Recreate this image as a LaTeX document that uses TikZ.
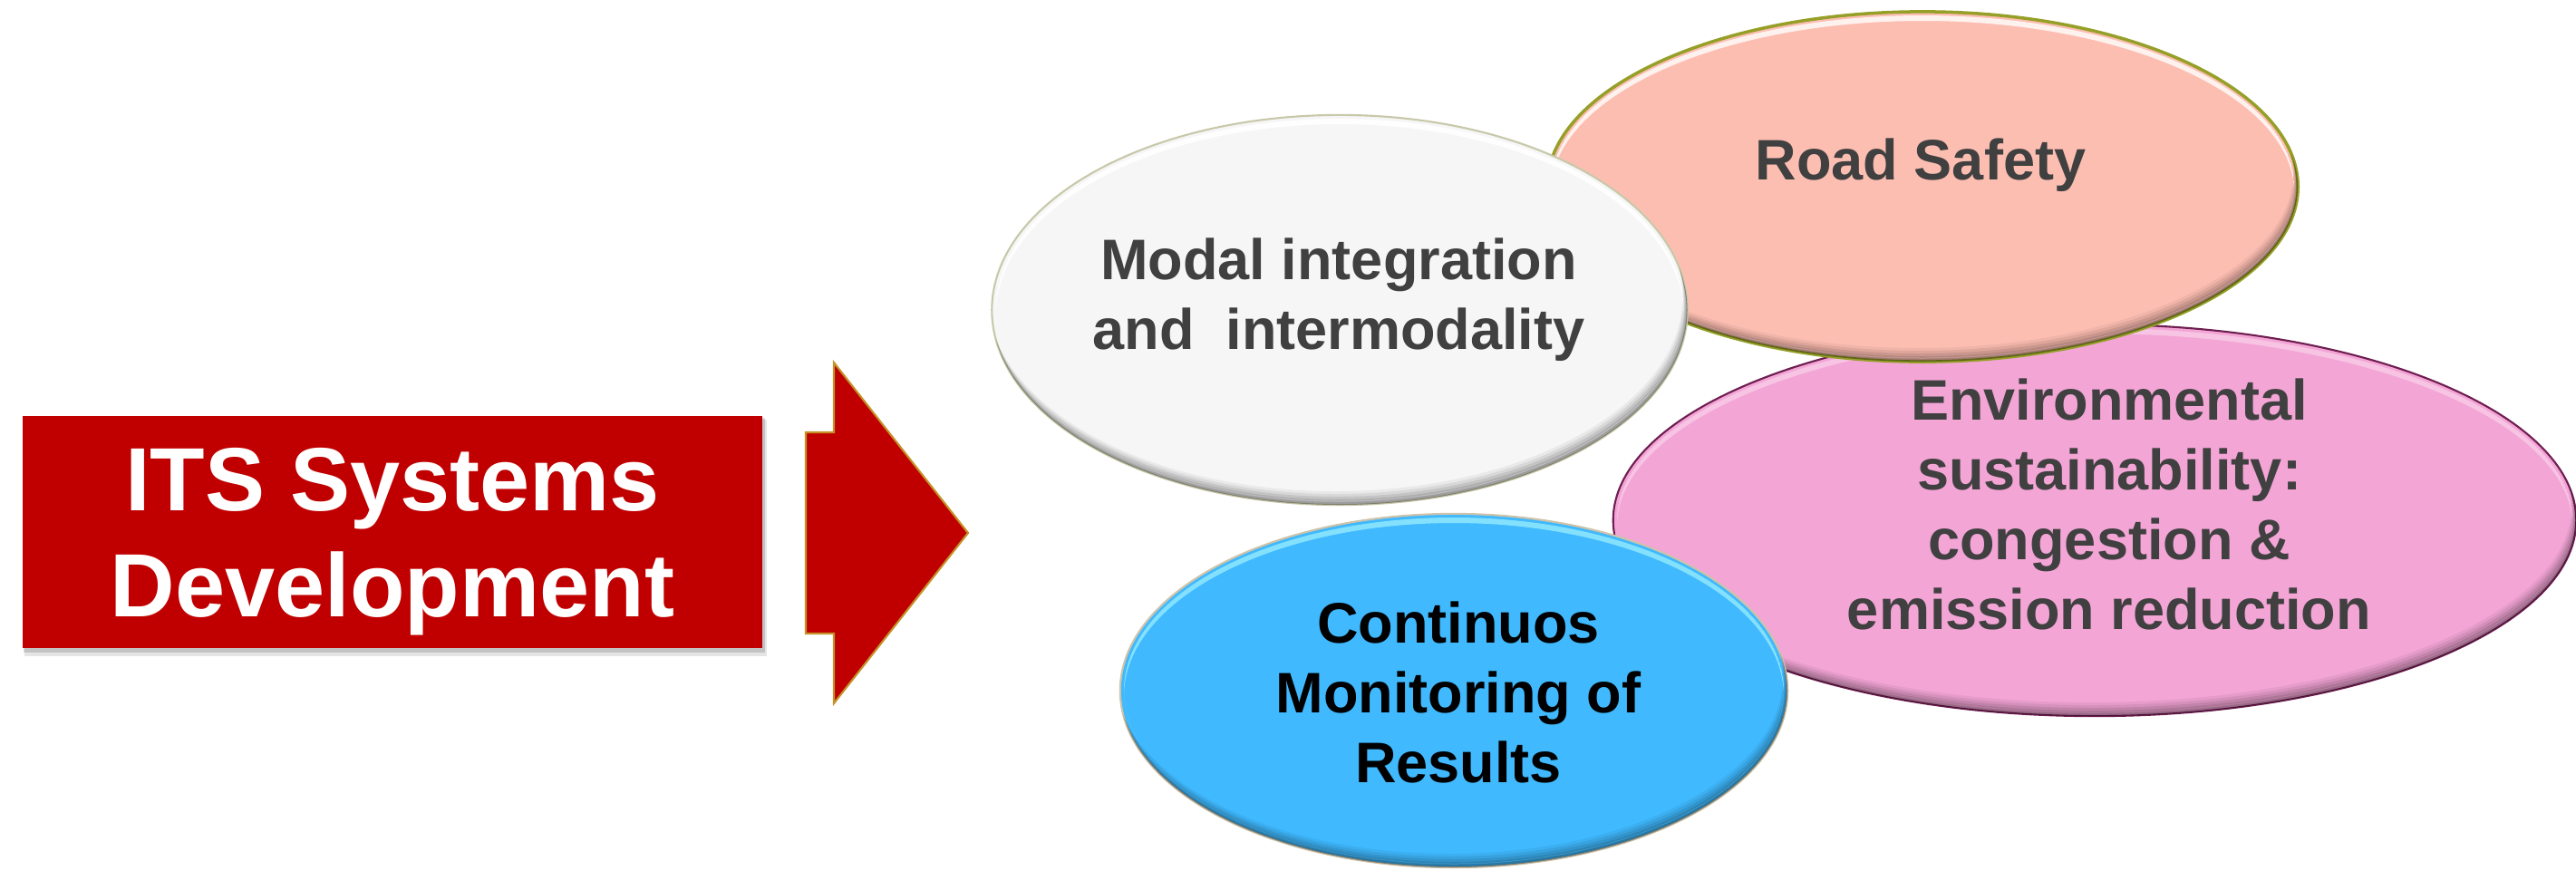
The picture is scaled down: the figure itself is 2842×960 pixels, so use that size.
\documentclass[tikz,border=0pt]{standalone}
\usepackage{fontspec}
\setmainfont{Liberation Sans}
\usetikzlibrary{shapes.geometric}
\definecolor{itsred}{RGB}{192,0,0}
\definecolor{arrowgold}{RGB}{196,146,40}
\definecolor{txtgray}{RGB}{64,64,64}
\definecolor{modalfill}{RGB}{246,246,246}
\definecolor{modaledge}{RGB}{200,200,170}
\definecolor{roadfill}{RGB}{253,190,178}
\definecolor{roadedge}{RGB}{150,160,40}
\definecolor{envfill}{RGB}{243,165,214}
\definecolor{envedge}{RGB}{110,30,80}
\definecolor{monfill}{RGB}{64,185,254}
\definecolor{monedge}{RGB}{205,195,170}
\definecolor{monhi}{RGB}{140,230,255}
\newcommand\lblfont{\fontsize{17.93pt}{21.9pt}\selectfont\bfseries}
\newcommand\itsfont{\fontsize{28.17pt}{33.3pt}\selectfont\bfseries}
% bevel: #1 node, #2 rx, #3 ry, #4 highlight colour, #5 highlight opacity, #6 shadow colour
\newcommand\bevelit[6]{%
  \begin{scope}
    \clip (#1.center) ellipse [x radius=#2, y radius=#3];
    \foreach \s/\o in {3/0.10,6/0.10,9/0.09,12/0.07,15/0.05}{
      \fill[#6, opacity=\o, even odd rule]
        (#1.center) ellipse [x radius=#2+3, y radius=#3+3]
        ([shift={(-\s/3,-\s)}]#1.center) ellipse [x radius=#2, y radius=#3];
    }
    \clip (#1.center) ellipse [x radius=#2-4, y radius=#3-4];
    \fill[#4, opacity=#5, even odd rule]
      (#1.center) ellipse [x radius=#2-4, y radius=#3-4]
      ([shift={(0,6)}]#1.center) ellipse [x radius=#2-4, y radius=#3-4];
  \end{scope}}
\tikzset{
  bubble/.style={ellipse, inner sep=0pt, outer sep=0pt, line width=0.6pt},
  lbl/.style={align=center, inner sep=0pt, font=\lblfont, text=txtgray},
  itsbox/.style={fill=itsred, inner sep=0pt, outer sep=0pt},
  bigarrow/.style={fill=itsred, draw=arrowgold, line width=0.6pt, line join=miter}
}
\begin{document}
\begin{tikzpicture}[x=0.01cm,y=-0.01cm]
\useasboundingbox (0,0) rectangle (2842,960);

% left box with soft shadow
\fill[black, opacity=0.10] (27,463) rectangle (846,724);
\fill[black, opacity=0.15] (26,461) rectangle (844,720);
\node[itsbox, minimum width=8.16cm, minimum height=2.56cm] (its) at (433,587) {};
\node[align=center, inner sep=0pt, font=\itsfont, text=white] (itstxt) at (433,598) {ITS Systems\\Development};

% block arrow
\draw[bigarrow] (889,477) -- (920,477) -- (920,400) -- (1068,588) -- (920,776) -- (920,699) -- (889,699) -- cycle;

% environmental sustainability (back)
\node[bubble, fill=envfill, draw=envedge, minimum width=10.62cm, minimum height=4.32cm] (env) at (2311,574) {};
\bevelit{env}{531}{216}{white}{0.35}{black}
\node[lbl] (envtxt) at (2327,556) {Environmental\\sustainability:\\congestion \&\\emission reduction};

% road safety
\node[bubble, fill=roadfill, draw=roadedge, line width=1pt, minimum width=8.28cm, minimum height=3.86cm] (road) at (2121,206) {};
\bevelit{road}{414}{193}{white}{0.8}{black}
\node[lbl] (roadtxt) at (2119,182) {Road Safety};

% modal integration
\node[bubble, fill=modalfill, draw=modaledge, minimum width=7.67cm, minimum height=4.30cm] (modal) at (1478,342) {};
\bevelit{modal}{383.5}{215}{white}{0.9}{black}
\node[lbl] (modaltxt) at (1477,331) {Modal integration\\and\ \ intermodality};

% continuous monitoring
\node[bubble, fill=monfill, draw=monedge, minimum width=7.36cm, minimum height=3.90cm] (mon) at (1604,762) {};
\bevelit{mon}{368}{195}{monhi}{0.9}{black}
\node[lbl, text=black] (montxt) at (1609,764) {Continuos\\Monitoring of\\Results};

\end{tikzpicture}
\end{document}
